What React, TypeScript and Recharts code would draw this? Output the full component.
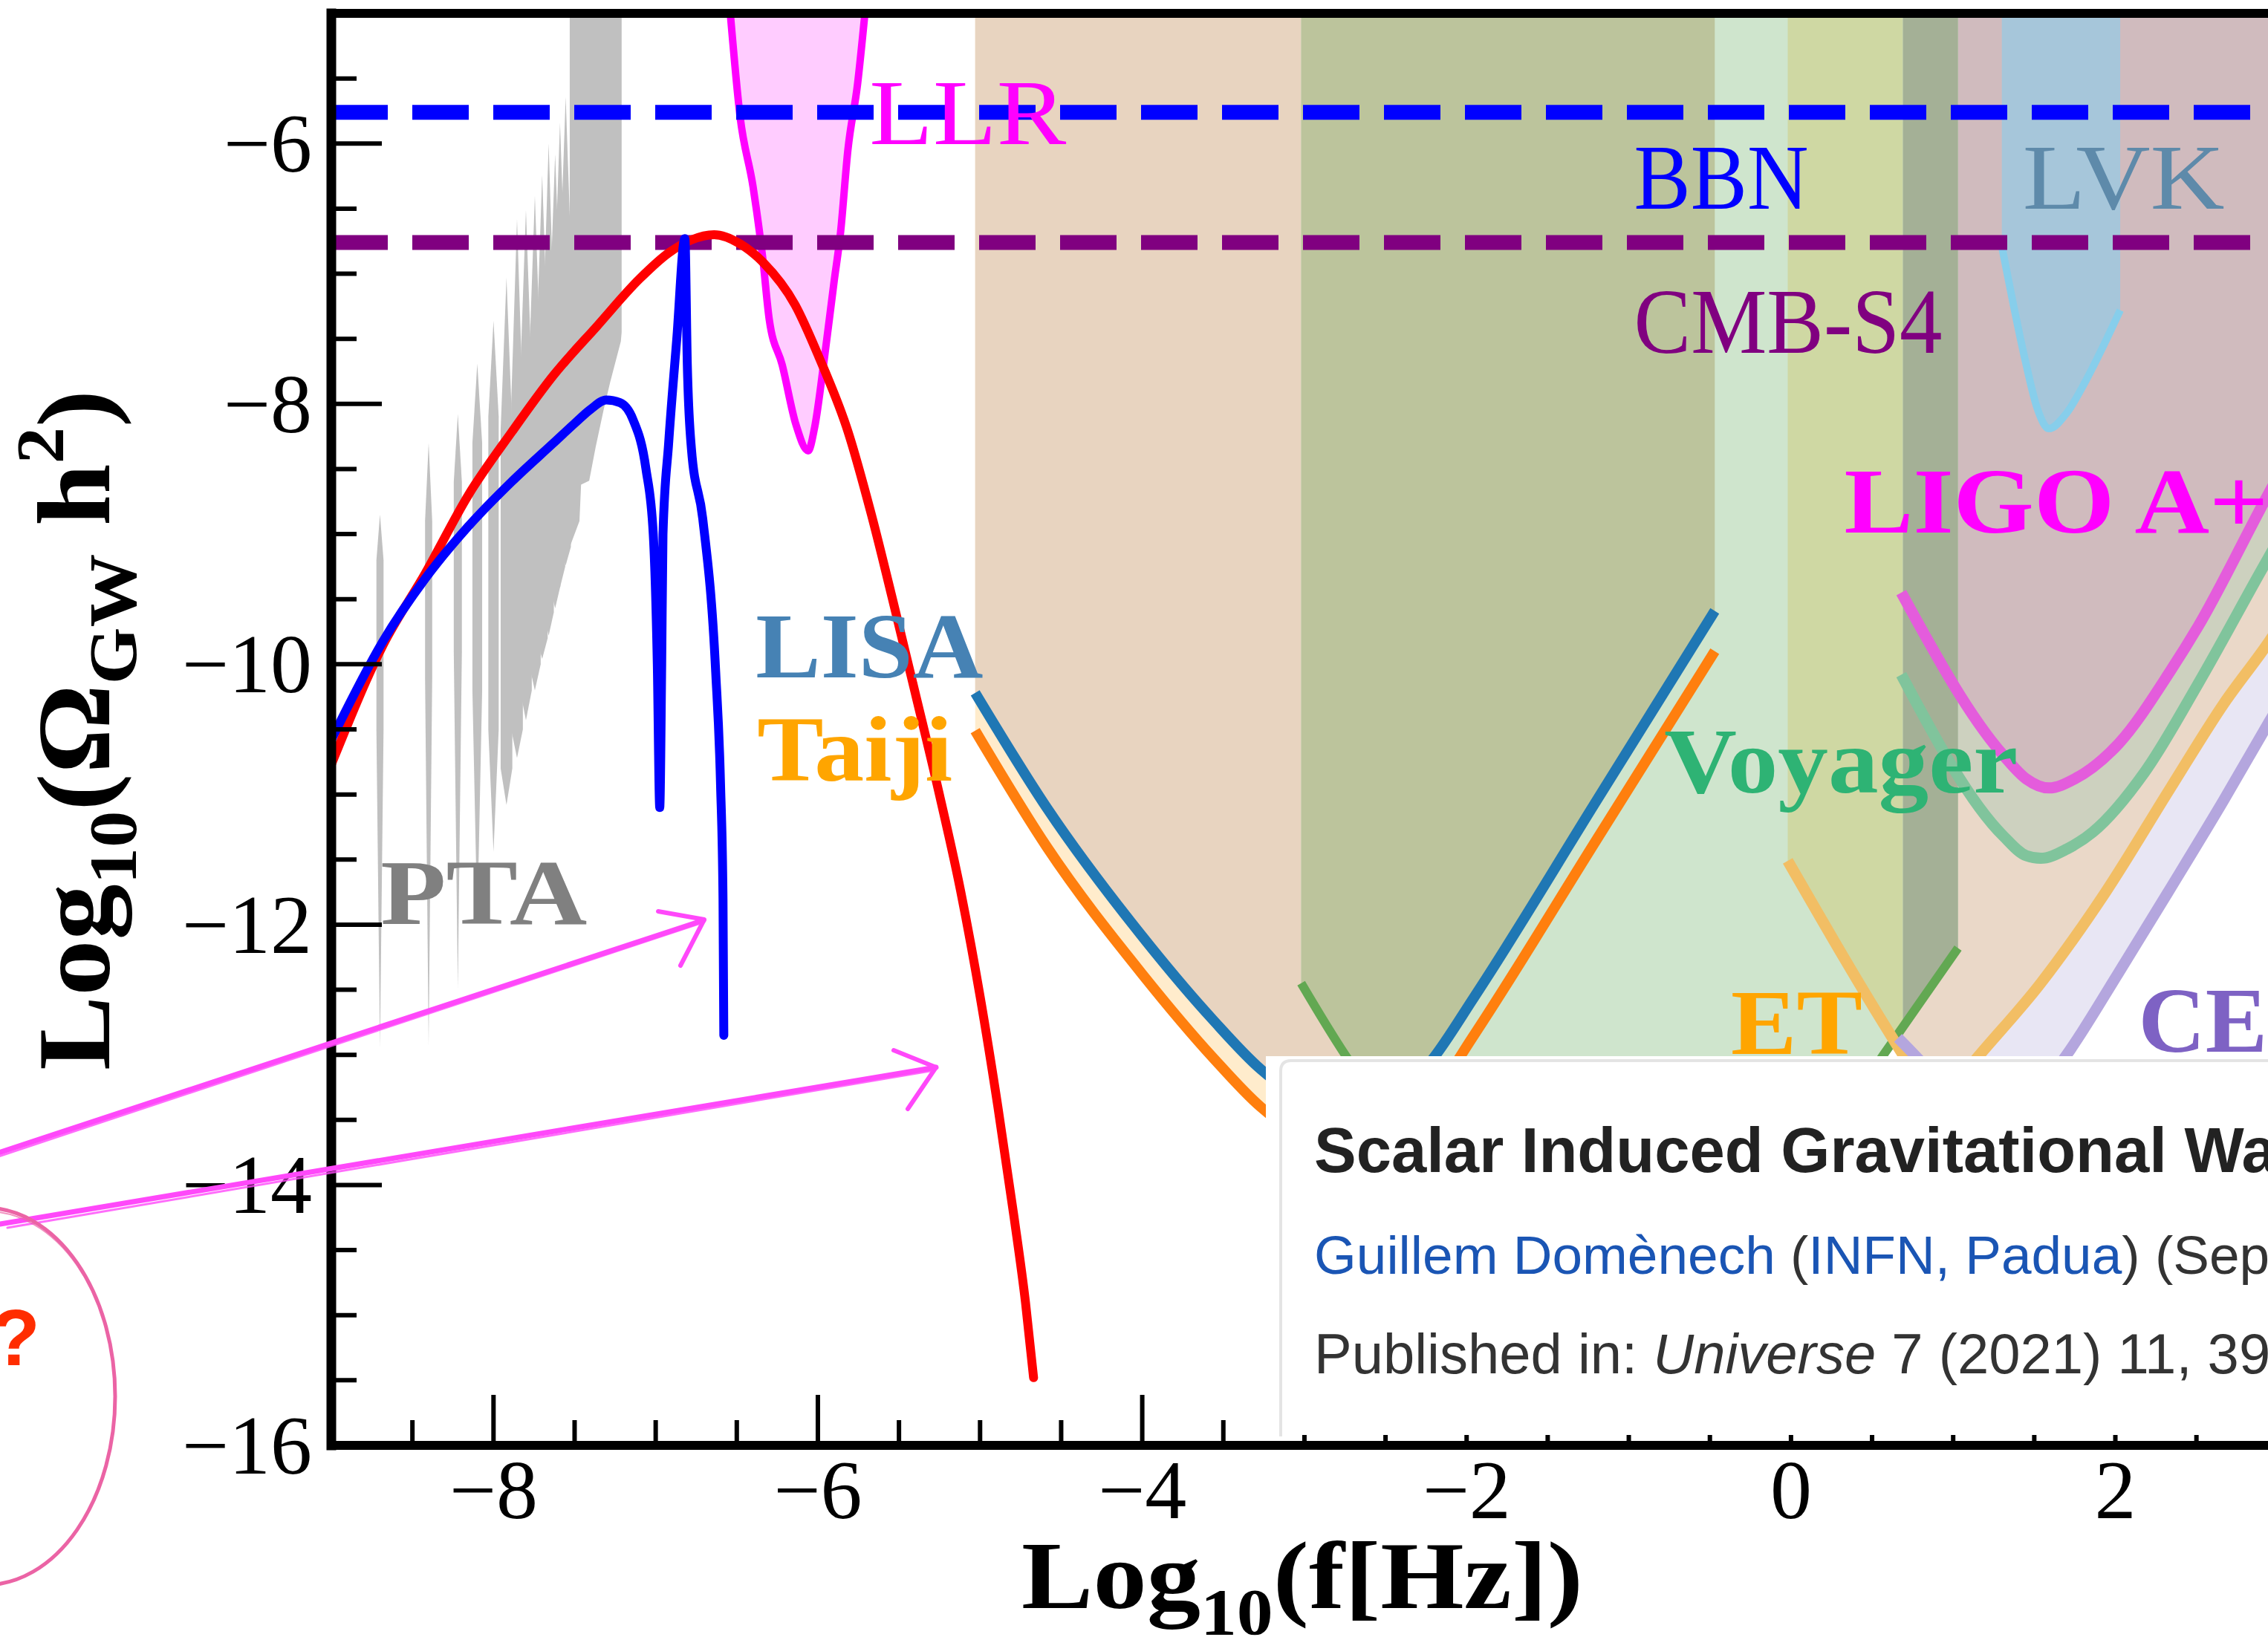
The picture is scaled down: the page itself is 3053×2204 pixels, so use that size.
import React from 'react';
import { ComposedChart, XAxis, YAxis, Line, Area, Scatter, ReferenceLine } from 'recharts';

type Pt = [number, number];

const SERIF = "'Liberation Serif', 'Times New Roman', serif";
const SANS = "'Liberation Sans', Arial, sans-serif";

const X_MIN = -9;
const X_MAX = 3.5;
const Y_MIN = -16;
const Y_MAX = -5;

const xTicks = [-9, -8.5, -8, -7.5, -7, -6.5, -6, -5.5, -5, -4.5, -4, -3.5, -3, -2.5, -2, -1.5, -1, -0.5, 0, 0.5, 1, 1.5, 2, 2.5, 3, 3.5];
const xLabeled = [-8, -6, -4, -2, 0, 2];
const yTicks = [-16, -15.5, -15, -14.5, -14, -13.5, -13, -12.5, -12, -11.5, -11, -10.5, -10, -9.5, -9, -8.5, -8, -7.5, -7, -6.5, -6, -5.5, -5];
const yLabeled = [-16, -14, -12, -10, -8, -6];

// horizontal bounds
const BBN_LEVEL = -5.76;
const CMB_S4_LEVEL = -6.76;

// induced GW spectra
const sigwRed: Pt[] = [[-9.0, -10.77], [-8.68, -9.85], [-8.42, -9.3], [-8.155, -8.7], [-7.89, -8.22], [-7.63, -7.78], [-7.36, -7.4], [-7.1, -7.04], [-6.92, -6.84], [-6.78, -6.74], [-6.64, -6.7], [-6.48, -6.77], [-6.34, -6.91], [-6.14, -7.24], [-5.99, -7.65], [-5.815, -8.21], [-5.67, -8.85], [-5.53, -9.55], [-5.4, -10.22], [-5.26, -10.95], [-5.12, -11.74], [-5.0, -12.55], [-4.89, -13.4], [-4.79, -14.25], [-4.72, -14.9], [-4.67, -15.48]];
const sigwBlue: Pt[] = [[-9.0, -10.58], [-8.68, -9.82], [-8.42, -9.34], [-8.155, -8.94], [-7.89, -8.6], [-7.63, -8.3], [-7.5, -8.15], [-7.4, -8.04], [-7.305, -7.97], [-7.22, -7.99], [-7.14, -8.12], [-7.06, -8.5], [-7.015, -9.0], [-6.99, -10.0], [-6.975, -11.1], [-6.963, -10.0], [-6.955, -9.0], [-6.92, -8.3], [-6.87, -7.5], [-6.82, -6.73], [-6.805, -7.7], [-6.78, -8.34], [-6.71, -8.88], [-6.63, -10.06], [-6.6, -10.93], [-6.585, -11.8], [-6.58, -12.85]];

// experiments
const llrCurve: Pt[] = [[-6.54, -5.0], [-6.48, -5.79], [-6.4, -6.33], [-6.34, -6.88], [-6.3, -7.35], [-6.22, -7.7], [-6.135, -8.16], [-6.06, -8.36], [-6.02, -8.18], [-5.96, -7.65], [-5.9, -7.06], [-5.86, -6.68], [-5.815, -6.05], [-5.755, -5.54], [-5.71, -5.0]];
const lisaCurve: Pt[] = [[-5.03, -10.22], [-4.59, -11.1], [-4.0, -12.09], [-3.565, -12.73], [-3.27, -13.11], [-3.0, -13.35], [-2.7, -13.45], [-2.45, -13.35], [-2.22, -13.05], [-1.95, -12.55], [-1.2, -11.05], [-0.47, -9.59]];
const taijiCurve: Pt[] = [[-5.03, -10.51], [-4.59, -11.4], [-4.0, -12.38], [-3.565, -13.02], [-3.27, -13.4], [-3.0, -13.64], [-2.7, -13.74], [-2.45, -13.64], [-2.22, -13.34], [-1.95, -12.84], [-1.2, -11.35], [-0.47, -9.9]];
const decigoCurve: Pt[] = [[-3.02, -12.45], [-2.7, -13.09], [-2.2, -13.8], [-1.2, -14.15], [0.0, -14.0], [0.57, -13.0], [1.03, -12.18]];
const decigoLisaEdge: Pt[] = [[-3.02, -12.45], [-2.7, -13.09], [-2.52, -13.33], [-2.45, -13.35], [-2.22, -13.05], [-1.95, -12.55], [-1.2, -11.05], [-0.47, -9.59]];
const etCurve: Pt[] = [[-0.02, -11.51], [0.676, -12.97], [0.9, -13.4], [1.13, -13.05], [1.54, -12.45], [1.94, -11.75], [2.34, -10.95], [2.67, -10.3], [2.94, -9.84], [3.5, -8.7]];
const etLeftEdge: Pt[] = [[-0.02, -11.51], [0.69, -13.0]];
const decigoRightEdge: Pt[] = [[0.69, -12.79], [1.03, -12.18]];
const ceCurve: Pt[] = [[0.66, -12.87], [0.85, -13.12], [1.2, -13.7], [1.7, -13.0], [2.02, -12.37], [2.34, -11.72], [2.67, -11.04], [2.94, -10.46], [3.5, -9.3]];
const voyagerCurve: Pt[] = [[0.68, -10.08], [1.31, -11.32], [1.45, -11.47], [1.54, -11.49], [1.7, -11.42], [1.86, -11.29], [2.18, -10.83], [2.51, -10.15], [2.94, -9.19], [3.5, -8.0]];
const ligoCurve: Pt[] = [[0.68, -9.45], [1.31, -10.7], [1.45, -10.88], [1.59, -10.95], [1.75, -10.88], [2.02, -10.61], [2.34, -10.05], [2.51, -9.71], [2.94, -8.7], [3.5, -7.5]];
const lvkCurve: Pt[] = [[1.3, -6.79], [1.37, -7.23], [1.445, -7.67], [1.52, -8.04], [1.59, -8.19], [1.7, -8.07], [1.81, -7.84], [1.92, -7.57], [2.03, -7.28]];

// PTA violins: centre, tip, tail, body span, half width
const ptaFreq = [-8.7, -8.4, -8.22, -8.1, -8.0, -7.92, -7.855, -7.8, -7.745, -7.7, -7.66, -7.62, -7.59, -7.555];
const ptaTop = [-8.85, -8.3, -8.08, -7.69, -7.36, -7.03, -6.58, -6.51, -6.4, -6.24, -6.0, -6.08, -5.84, -5.64];
const ptaBottom = [-12.95, -12.93, -12.49, -11.99, -11.44, -11.08, -10.72, -10.43, -10.2, -9.96, -9.78, -9.57, -9.41, -9.24];
const ptaBodyLow = [-10.5, -10.1, -9.9, -10.2, -10.5, -10.8, -10.5, -10.2, -10.0, -9.8, -9.6, -9.4, -9.25, -9.1];
const ptaBodyHigh = [-9.2, -8.9, -8.6, -8.3, -8.1, -8.2, -8.0, -7.8, -7.7, -7.5, -7.3, -7.2, -7.0, -6.8];
const ptaHalf = [0.022, 0.022, 0.025, 0.03, 0.032, 0.036, 0.036, 0.036, 0.036, 0.034, 0.032, 0.032, 0.032, 0.032];
const ptaDenseEdge: Pt[] = [[-7.53, -9.1], [-7.47, -8.9], [-7.46, -8.62], [-7.41, -8.59], [-7.37, -8.33], [-7.32, -8.04], [-7.28, -7.83], [-7.215, -7.52], [-7.21, -7.45]];

// text labels in the plot
const labelText = ['LLR', 'BBN', 'LVK', 'CMB-S4', 'LIGO A+', 'LISA', 'Taiji', 'PTA', 'Voyager', 'ET', 'CE'];
const labelX = [-5.682, -0.968, 1.428, -0.968, 0.328, -6.383, -6.374, -8.696, -0.781, -0.37, 2.142];
const labelY = [-6.006, -6.502, -6.502, -7.606, -8.986, -10.1, -10.894, -11.995, -10.986, -12.994, -12.977];

const labelStyle = [
  { color: '#ff00ff', bold: false, width: 265 },
  { color: '#0000ff', bold: false, width: 235 },
  { color: '#5e8aaa', bold: false, width: 272 },
  { color: '#800080', bold: false, width: 415 },
  { color: '#ff00ff', bold: true, width: 571 },
  { color: '#4682b4', bold: true, width: 306 },
  { color: '#ffa500', bold: true, width: 263 },
  { color: '#808080', bold: true, width: 278 },
  { color: '#2eb374', bold: true, width: 476 },
  { color: '#ffa500', bold: true, width: 177 },
  { color: '#7e62c4', bold: true, width: undefined as number | undefined },
];

const rows = (pts: Pt[]) => pts.map(([x, y]) => ({ x, y }));
const band = (pts: Pt[]) => pts.map(([x, y]) => ({ x, r: [y, Y_MAX] }));

const fmt = (v: number) => (v < 0 ? '\u2212' + Math.abs(v) : String(v));

const XTick = (p: any) => {
  const { x, y, payload } = p;
  const v = payload.value;
  const major = xLabeled.includes(v);
  return (
    <g>
      <line x1={x} x2={x} y1={y} y2={y - (major ? 68 : 34)} stroke="#000" strokeWidth={6} />
      {major && (
        <text x={x} y={y + 98} textAnchor="middle" fontFamily={SERIF} fontSize={112} fill="#000">
          {fmt(v)}
        </text>
      )}
    </g>
  );
};

const YTick = (p: any) => {
  const { x, y, payload } = p;
  const v = payload.value;
  const major = yLabeled.includes(v);
  return (
    <g>
      <line x1={x} x2={x + (major ? 68 : 34)} y1={y} y2={y} stroke="#000" strokeWidth={6} />
      {major && (
        <text x={x - 26} y={y + 38} textAnchor="end" fontFamily={SERIF} fontSize={112} fill="#000">
          {fmt(v)}
        </text>
      )}
    </g>
  );
};

const XTitle = () => (
  <text x={1375} y={2165} fontFamily={SERIF} fontWeight={700} fontSize={130} fill="#000" textLength={756} lengthAdjust="spacingAndGlyphs">
    <tspan>Log</tspan>
    <tspan fontSize={88} dy={35}>10</tspan>
    <tspan dy={-35}>(f[Hz])</tspan>
  </text>
);

const YTitle = () => (
  <text transform="translate(147,1441) rotate(-90)" fontFamily={SERIF} fontWeight={700} fontSize={140} fill="#000" textLength={916} lengthAdjust="spacingAndGlyphs">
    <tspan>Log</tspan>
    <tspan fontSize={92} dy={36}>10</tspan>
    <tspan dy={-36}>(Ω</tspan>
    <tspan fontSize={92} dy={36}>GW</tspan>
    <tspan dy={-36}> h</tspan>
    <tspan fontSize={92} dy={-62}>2</tspan>
    <tspan dy={62}>)</tspan>
  </text>
);

const renderLabel = (p: any) => {
  const { cx, cy, payload } = p;
  const s = labelStyle[payload.i];
  return (
    <text
      x={cx}
      y={cy}
      fill={s.color}
      fontFamily={SERIF}
      fontWeight={s.bold ? 700 : 400}
      fontSize={125}
      textLength={s.width}
      lengthAdjust={s.width ? 'spacingAndGlyphs' : undefined}
    >
      {payload.text}
    </text>
  );
};

const fills: { pts: Pt[]; color: string }[] = [
  { pts: ceCurve, color: '#e8e6f4' },
  { pts: etCurve, color: '#ead8c8' },
  { pts: voyagerCurve, color: '#cdd1bf' },
  { pts: ligoCurve, color: '#d0bbbe' },
  { pts: lvkCurve, color: '#a6c6da' },
  { pts: taijiCurve, color: '#ffeccc' },
  { pts: lisaCurve, color: '#e8d4c0' },
  { pts: decigoCurve, color: '#cfe5cd' },
  { pts: decigoLisaEdge, color: '#bcc49c' },
  { pts: etLeftEdge, color: '#cfd8a3' },
  { pts: decigoRightEdge, color: '#a4b096' },
  { pts: llrCurve, color: '#ffccff' },
];

const curves: { pts: Pt[]; color: string; width: number }[] = [
  { pts: decigoCurve, color: '#62a852', width: 12 },
  { pts: etCurve, color: '#f2be64', width: 15 },
  { pts: ceCurve, color: '#b4a6de', width: 15 },
  { pts: voyagerCurve, color: '#80c49c', width: 15 },
  { pts: ligoCurve, color: '#e45cdc', width: 15 },
  { pts: lvkCurve, color: '#87ceeb', width: 10 },
  { pts: lisaCurve, color: '#1f77b4', width: 14 },
  { pts: taijiCurve, color: '#ff7f0e', width: 14 },
  { pts: llrCurve, color: '#ff00ff', width: 10 },
];

// each violin: tip on top, flat sided body, tail below
const violinData = ptaFreq.map((v, k) => [
  { x: v - ptaHalf[k], r: [ptaBodyLow[k], ptaBodyHigh[k]] },
  { x: v, r: [ptaBottom[k], ptaTop[k]] },
  { x: v + ptaHalf[k], r: [ptaBodyLow[k], ptaBodyHigh[k]] },
]);

const labelData = labelText.map((t, i) => ({ x: labelX[i], y: labelY[i], text: t, i }));

const Overlay = () => (
  <svg width={3053} height={2204} style={{ position: 'absolute', left: 0, top: 0, pointerEvents: 'none' }}>
    {/* paper card pasted on the figure */}
    <rect x={1704} y={1422} width={1400} height={510} fill="#fff" />
    <path d="M1724 1934 L1724 1442 Q1724 1428 1738 1428 L3060 1428" fill="none" stroke="#e4e4e4" strokeWidth={4} />
    <text x={1769} y={1578} fontFamily={SANS} fontWeight={700} fontSize={85} fill="#222">
      Scalar Induced Gravitational Waves Review
    </text>
    <text x={1769} y={1715} fontFamily={SANS} fontSize={73} fill="#333">
      <tspan fill="#1a55b4">Guillem Domènech</tspan>
      <tspan> (</tspan>
      <tspan fill="#1a55b4">INFN, Padua</tspan>
      <tspan>) (Sep 3, 2021)</tspan>
    </text>
    <text x={1769} y={1849} fontFamily={SANS} fontSize={76} fill="#333">
      <tspan>Published in: </tspan>
      <tspan fontStyle="italic">Universe</tspan>
      <tspan> 7 (2021) 11, 398</tspan>
    </text>

    {/* hand drawn marks */}
    <g fill="none" stroke="#ff48fa" strokeLinecap="round" strokeLinejoin="round">
      <path d="M-5 1553 L947 1239" strokeWidth={7} />
      <path d="M-5 1558 L940 1244" strokeWidth={3} opacity={0.8} />
      <path d="M886 1227 L948 1238 L916 1300" strokeWidth={6} />
      <path d="M0 1648 L1260 1437" strokeWidth={7} />
      <path d="M10 1653 L1252 1442" strokeWidth={3} opacity={0.8} />
      <path d="M1203 1414 L1260 1437 L1222 1493" strokeWidth={6} />
    </g>
    <ellipse cx={-20} cy={1880} rx={175} ry={254} fill="none" stroke="#eb64a5" strokeWidth={5} />
    <ellipse cx={-18} cy={1882} rx={173} ry={251} fill="none" stroke="#eb64a5" strokeWidth={2} opacity={0.7} />
    <text x={-12} y={1838} fontFamily={SANS} fontWeight={700} fontSize={108} fill="#ff2d00">?</text>
  </svg>
);

export default function App() {
  return (
    <div style={{ position: 'fixed', left: 0, top: 0, width: 3053, height: 2204, overflow: 'hidden', background: '#fff' }}>
      <ComposedChart width={3200} height={2204} margin={{ top: 18, right: 25, bottom: 0, left: 0 }}>
        <XAxis
          type="number"
          dataKey="x"
          domain={[X_MIN, X_MAX]}
          allowDataOverflow
          ticks={xTicks}
          interval={0}
          tickSize={0}
          tickMargin={0}
          axisLine={false}
          tickLine={false}
          tick={<XTick />}
          height={258}
          label={<XTitle />}
        />
        <YAxis
          type="number"
          domain={[Y_MIN, Y_MAX]}
          allowDataOverflow
          ticks={yTicks}
          interval={0}
          tickSize={0}
          tickMargin={0}
          axisLine={false}
          tickLine={false}
          tick={<YTick />}
          width={446}
          label={<YTitle />}
        />

        {fills.map((f, i) => (
          <Area
            key={'fill' + i}
            data={band(f.pts)}
            dataKey="r"
            type="monotone"
            fill={f.color}
            fillOpacity={1}
            stroke="none"
            dot={false}
            activeDot={false}
            isAnimationActive={false}
          />
        ))}

        {violinData.map((d, i) => (
          <Area
            key={'pta' + i}
            data={d}
            dataKey="r"
            type="linear"
            fill="#c0c0c0"
            fillOpacity={1}
            stroke="none"
            dot={false}
            activeDot={false}
            isAnimationActive={false}
          />
        ))}
        <Area
          data={band(ptaDenseEdge)}
          dataKey="r"
          type="linear"
          fill="#c0c0c0"
          fillOpacity={1}
          stroke="none"
          dot={false}
          activeDot={false}
          isAnimationActive={false}
        />

        {curves.map((c, i) => (
          <Line
            key={'curve' + i}
            data={rows(c.pts)}
            dataKey="y"
            type="monotone"
            stroke={c.color}
            strokeWidth={c.width}
            dot={false}
            activeDot={false}
            isAnimationActive={false}
          />
        ))}

        <ReferenceLine y={BBN_LEVEL} stroke="#0000ff" strokeWidth={20} strokeDasharray="76 33" />
        <ReferenceLine y={CMB_S4_LEVEL} stroke="#800080" strokeWidth={20} strokeDasharray="76 33" />

        <Line data={rows(sigwRed)} dataKey="y" type="monotone" stroke="#ff0000" strokeWidth={12} strokeLinecap="round" dot={false} activeDot={false} isAnimationActive={false} />
        <Line data={rows(sigwBlue)} dataKey="y" type="monotone" stroke="#0000ff" strokeWidth={12} strokeLinecap="round" dot={false} activeDot={false} isAnimationActive={false} />

        <Scatter data={labelData} dataKey="y" shape={renderLabel} isAnimationActive={false} />

        <ReferenceLine x={X_MIN} stroke="#000" strokeWidth={13} strokeLinecap="square" />
        <ReferenceLine y={Y_MAX} stroke="#000" strokeWidth={12} strokeLinecap="square" />
        <ReferenceLine y={Y_MIN} stroke="#000" strokeWidth={12} strokeLinecap="square" />
      </ComposedChart>
      <Overlay />
    </div>
  );
}
